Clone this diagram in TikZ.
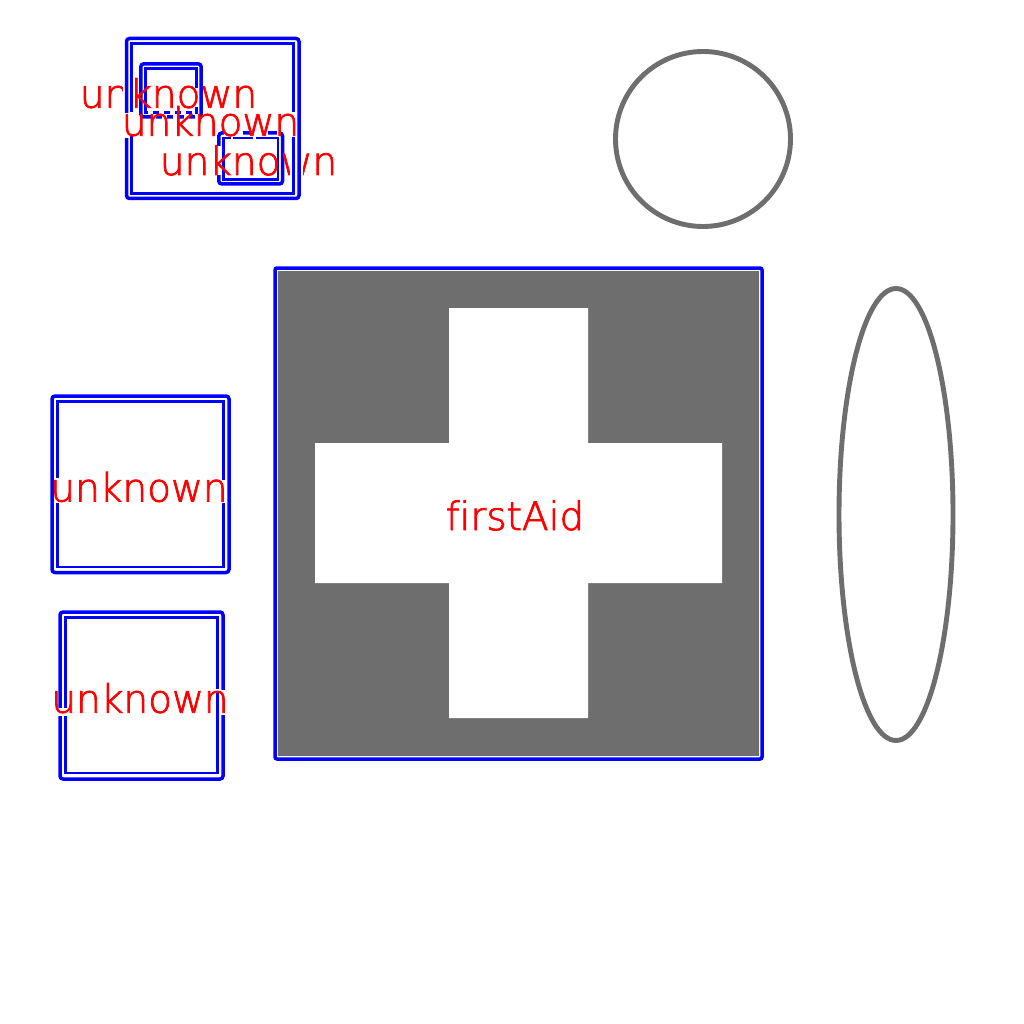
\documentclass[tikz,border=0pt]{standalone}
\usepackage{fontspec}
\newfontfamily\labfont[FakeBold=2,Ligatures=NoCommon]{DejaVu Sans ExtraLight}
\definecolor{bb}{RGB}{0,0,255}
\definecolor{gg}{RGB}{110,110,110}
\tikzset{
 x=1pt,y=-1pt,
 outerbox/.style={draw=bb,line width=3.5pt,rounded corners=3pt},
 innerbox/.style={draw=bb,line width=2.9pt},
 casing/.style={draw=white,line width=7pt},
 outline/.style={draw=gg,line width=4.9pt},
 lab/.style={text=red,anchor=base,inner sep=0pt,font=\labfont\fontsize{39pt}{39pt}\selectfont},
 gap/.style={draw=white,line width=4.6pt},
 dashgap/.style={draw=white,line width=4.2pt,dash pattern=on 5pt off 6pt}
}
\begin{document}
\begin{tikzpicture}
\useasboundingbox[fill=white] (0,0) rectangle (1024,1024);
% small inner boxes
\draw[outerbox] (140.8,63.8) rectangle (201.2,117);
\draw[innerbox] (145.5,68.5) rectangle (196.8,112.5);
\draw[outerbox] (218.8,133) rectangle (282.5,184);
\draw[innerbox] (223.8,138) rectangle (278,179.5);
% halo gaps on the small boxes
\draw[gap] (196.8,88) -- (196.8,107);
\draw[gap] (218.8,146) -- (218.8,175);
% labels under the big box
\node[lab] (u1) at (168.5,107.7) {unknown};
\node[lab] (u3) at (248.5,175) {unknown};
% box containing them
\draw[casing] (126.5,38.5) rectangle (299,198.5);
\draw[casing] (131.5,43.5) rectangle (293.5,193.5);
\draw[outerbox] (126.5,38.5) rectangle (299,198.5);
\draw[innerbox] (131.5,43.5) rectangle (293.5,193.5);
% left boxes
\draw[outerbox] (52,396) rectangle (229,572.5);
\draw[innerbox] (57.5,401.5) rectangle (223.5,567);
\draw[outerbox] (60,612) rectangle (223,779);
\draw[innerbox] (65.5,617.5) rectangle (217.5,773);
% first aid
\fill[gg] (278,271) rectangle (759,756);
\draw[draw=bb,line width=3.5pt,rounded corners=2pt] (275,268) rectangle (762,759);
\fill[white] (449,308) rectangle (588,443) (315,443) rectangle (722,583) (449,583) rectangle (588,718);
% outlines
\draw[outline] (703,139) circle [radius=87.5];
\draw[outline] (896,514.5) ellipse [x radius=57,y radius=226];
% halo gaps
\draw[gap] (57.5,478) -- (57.5,503);
\draw[gap] (223.5,480) -- (223.5,503);
\draw[gap] (60,708) -- (60,716);
\draw[gap] (65.5,708) -- (65.5,716);
\draw[gap] (217.5,689) -- (217.5,693);
\draw[gap] (223,690) -- (223,715);
\draw[gap] (126.5,113) -- (126.5,138);
\draw[gap] (131.5,112) -- (131.5,136);
\draw[gap] (293.5,112) -- (293.5,137);
\draw[dashgap] (148,112.5) -- (195,112.5);
\draw[dashgap] (151,117) -- (199,117);
\draw[gap] (224,133) -- (243,133);
\draw[gap] (250,133) -- (268,133);
\draw[gap] (277,133) -- (280,133);
\draw[gap] (231,138) -- (233,138);
\draw[gap] (253,138) -- (256,138);
% labels on top
\node[lab] (u2) at (210.5,135.7) {unknown};
\node[lab] (u4) at (139,501.5) {unknown};
\node[lab] (u5) at (140,712.7) {unknown};
\node[lab] (fa) at (515,530) {firstAid};
\end{tikzpicture}
\end{document}
